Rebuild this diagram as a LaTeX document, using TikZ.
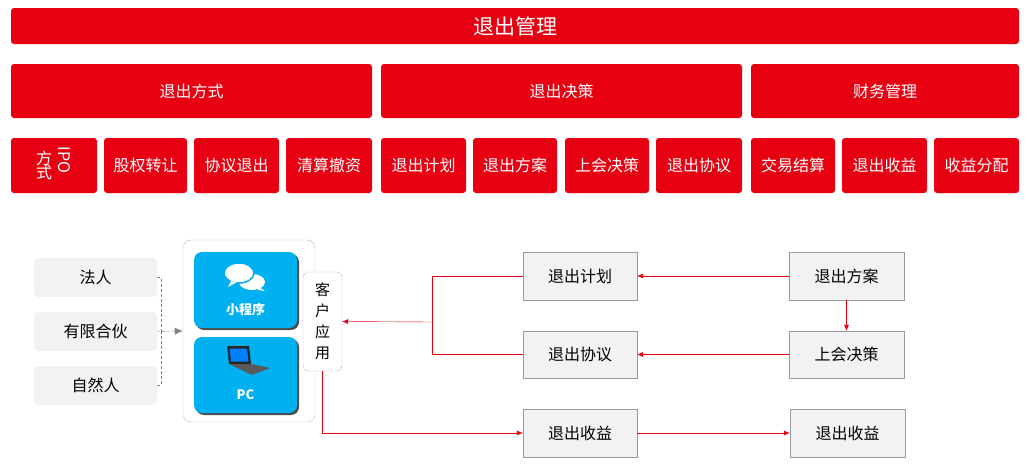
\documentclass[tikz,border=0pt]{standalone}
\usepackage{fontspec}
\setmainfont{Noto Sans CJK SC}
\usetikzlibrary{arrows.meta,calc}
\definecolor{exitred}{HTML}{E60012}
\definecolor{boxgray}{HTML}{F2F2F2}
\definecolor{appblue}{HTML}{00B0F0}
\tikzset{
  redbox/.style={fill=exitred,rounded corners=3pt,text=white,font=\fontsize{16}{19}\selectfont},
  graybox/.style={fill=boxgray,rounded corners=4pt,font=\fontsize{16}{19}\selectfont},
  stepbox/.style={fill=boxgray,draw=gray!80,font=\fontsize{16}{19}\selectfont},
  bluebox/.style={fill=appblue,rounded corners=8pt,text=white,font=\bfseries\fontsize{13}{16}\selectfont},
  redarrow/.style={exitred,-{Latex[length=6pt,width=5pt]}},
  redline/.style={exitred},
}
\begin{document}
\begin{tikzpicture}[x=1pt,y=-1pt]
    \useasboundingbox (0,0) rectangle (1029,471);
    % title bar
    \node[redbox,minimum width=1008,minimum height=36,font=\fontsize{21}{25}\selectfont] (title) at (515,26) {退出管理};
    % second row
    \node[redbox,minimum width=361,minimum height=54] (way) at (191.5,91) {退出方式};
    \node[redbox,minimum width=361,minimum height=54] (decide) at (561.5,91) {退出决策};
    \node[redbox,minimum width=268,minimum height=54] (finance) at (885,91) {财务管理};
    % third row
    \foreach \a/\b/\t [count=\i] in {104/187/股权转让,194/279/协议退出,286/372/清算撤资,381/466/退出计划,473/557/退出方案,565/649/上会决策,656/742/退出协议,751/835/交易结算,842/927/退出收益,934/1019/收益分配}
      \node[redbox,minimum width=\b-\a,minimum height=55,inner sep=0pt] (sub\i) at ({(\a+\b)/2},165.5) {\t};
    \node[redbox,minimum width=86,minimum height=55,inner sep=0pt] (ipo) at (54,165.5) {};
    \node[text=white,font=\fontsize{16}{19}\selectfont,align=center,inner sep=0pt] at (44,165.5) {方\\[-5pt]式};
    \node[text=white,font=\fontsize{16}{19}\selectfont,rotate=-90,inner sep=0pt] at (64,160) {IPO};
    % users
    \node[graybox,minimum width=123,minimum height=39] (legal) at (95.5,277.5) {法人};
    \node[graybox,minimum width=123,minimum height=39] (lp) at (95.5,331.5) {有限合伙};
    \node[graybox,minimum width=123,minimum height=39] (person) at (95.5,385.5) {自然人};
    % client frame
    \node[draw=black!70,densely dotted,rounded corners=8pt,minimum width=132,minimum height=182] (frame) at (249,331) {};
    \coordinate (join) at (161,332);
    \draw[gray,densely dashed] (legal.east) -| (join);
    \draw[gray,densely dashed] (person.east) -| (join);
    \draw[gray,densely dashed,-{Latex[length=8pt,width=7pt]}] (lp.east) -- (frame.west);
    % apps
    \fill[gray!60!black,rounded corners=8pt] (196,254) rectangle (299,330);
    \fill[gray!60!black,rounded corners=8pt] (196,339) rectangle (299,415);
    \node[bluebox,minimum width=103,minimum height=76] (mini) at (245.5,290) {};
    \node[bluebox,minimum width=103,minimum height=76] (pc) at (245.5,375) {};
    \node[text=white,font=\bfseries\fontsize{13}{16}\selectfont] at (245.5,310) {小程序};
    \node[text=white,font=\bfseries\fontsize{13}{16}\selectfont] at (245.5,395) {PC};
    % chat icon
    \fill[white] (252,282) ellipse (13 and 8);
    \fill[white] (259,287) -- (265,291) -- (258,290) -- cycle;
    \draw[appblue,line width=1.5pt,fill=white] (239,273) ellipse (15 and 10);
    \fill[white] (231,281) -- (228,287) -- (237,282) -- cycle;
    % laptop icon
    \fill[black!85] (227,346) -- (249,346) -- (251,364) -- (229,364) -- cycle;
    \fill[blue!50!cyan] (229.5,348.5) -- (247,348.5) -- (248.5,361.5) -- (231,361.5) -- cycle;
    \fill[black!65] (229,364) -- (251,364) -- (270,368) -- (252,375) -- cycle;
    % client app
    \node[draw=black!70,densely dotted,fill=white,rounded corners=5pt,minimum width=39,minimum height=99,align=center,inner sep=0pt,font=\fontsize{15}{21}\selectfont] (client) at (322.5,321.5) {客\\户\\应\\用};
    % steps
    \node[stepbox,minimum width=114,minimum height=48] (plan) at (580,276) {退出计划};
    \node[stepbox,minimum width=115,minimum height=48] (scheme) at (846.5,276) {退出方案};
    \node[stepbox,minimum width=115,minimum height=47] (board) at (846.5,354.5) {上会决策};
    \node[stepbox,minimum width=114,minimum height=47] (deal) at (580,354.5) {退出协议};
    \node[stepbox,minimum width=114,minimum height=48] (gain) at (580,433) {退出收益};
    \node[stepbox,minimum width=115,minimum height=48] (gain2) at (847.5,433) {退出收益};
    % connectors
    \coordinate (bus) at (432,322);
    \draw[redarrow] (scheme) -- (plan);
    \draw[redarrow] (scheme) -- (board);
    \draw[redarrow] (board) -- (deal);
    \draw[redline] (plan.west) -| (bus);
    \draw[redline] (deal.west) -| (bus);
    \draw[redarrow] (bus) -- (client.east);
    \draw[redarrow] (client.south) |- (gain.west);
    \draw[redarrow] (gain) -- (gain2);
\end{tikzpicture}
\end{document}
